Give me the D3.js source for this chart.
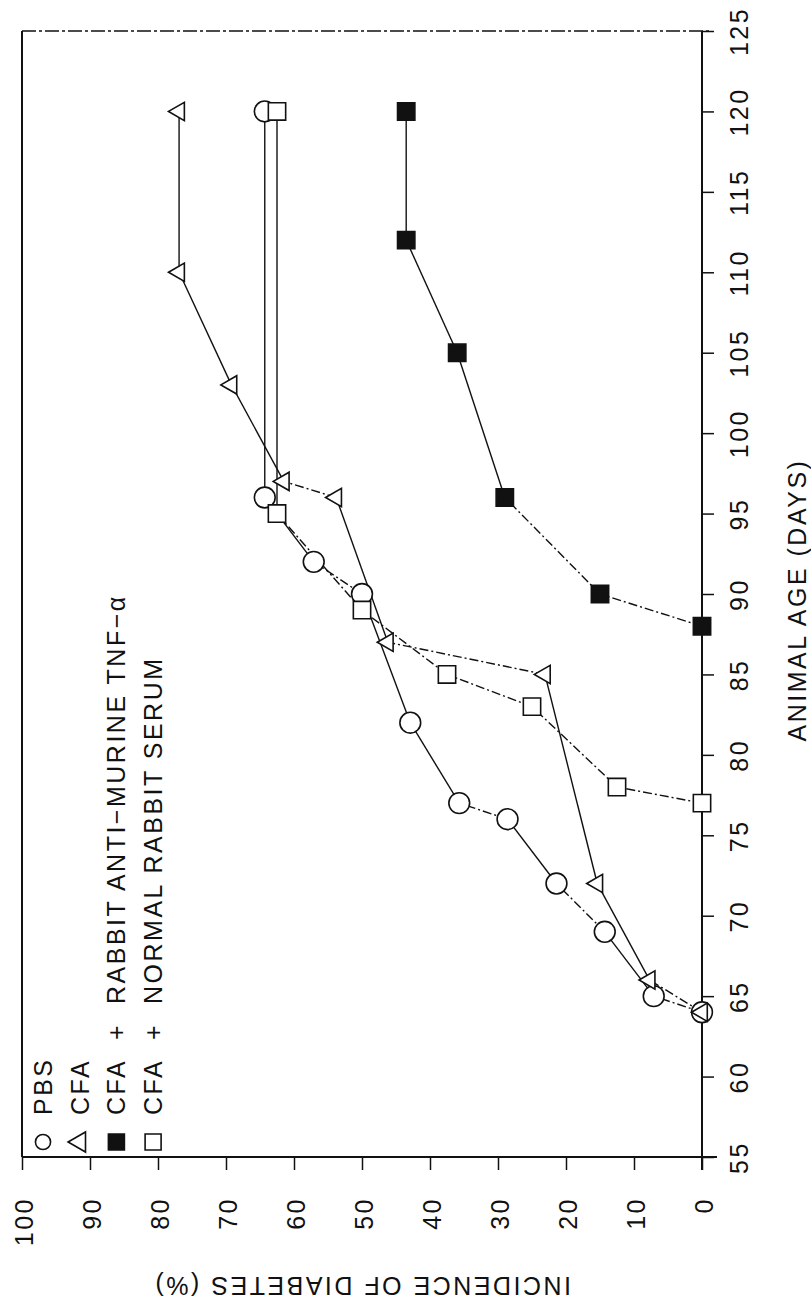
<!DOCTYPE html>
<html>
<head>
<meta charset="utf-8">
<script src="https://cdn.jsdelivr.net/npm/d3@7/dist/d3.min.js"></script>
<style>
  html, body { margin: 0; padding: 0; background: #fff; }
  svg { display: block; }
  text { font-family: "Liberation Sans", Arial, sans-serif; fill: #111; }
</style>
</head>
<body>
<div id="chart"></div>
<script>
// days (x of the original chart) and incidence in % (y)
const pbsDays = [64, 65, 69, 72, 76, 77, 82, 90, 92, 96, 120];
const pbsIncidence = [0, 7.1, 14.3, 21.4, 28.6, 35.7, 42.9, 50, 57.1, 64.3, 64.3];

const cfaDays = [64, 66, 72, 85, 87, 96, 97, 103, 110, 120];
const cfaIncidence = [0, 7.7, 15.4, 23.1, 46.2, 53.8, 61.5, 69.2, 76.9, 76.9];

const antiTnfDays = [88, 90, 96, 105, 112, 120];
const antiTnfIncidence = [0, 15, 29, 36, 43.5, 43.5];

const nrsDays = [77, 78, 83, 85, 89, 95, 120];
const nrsIncidence = [0, 12.5, 25, 37.5, 50, 62.5, 62.5];

const ageTicks = [55, 60, 65, 70, 75, 80, 85, 90, 95, 100, 105, 110, 115, 120, 125];
const incidenceTicks = [0, 10, 20, 30, 40, 50, 60, 70, 80, 90, 100];

const legendLabels = [
  'PBS',
  'CFA',
  'CFA\u00a0\u00a0+\u00a0\u00a0RABBIT ANTI\u2212MURINE TNF\u2212\u03b1',
  'CFA\u00a0\u00a0+\u00a0\u00a0NORMAL RABBIT SERUM',
];

const W = 811;
const H = 1310;
const FS = 25;
const LS = '2.5px';
const INK = '#111';
const CHAIN = '9 3 2 3'; // shallow strokes came out chain-dotted in the print

// the page is the original figure turned a quarter turn counter-clockwise:
// age runs bottom -> top, incidence runs right -> left
const y = d3.scaleLinear().domain([55, 125]).range([1157, 31]);
const x = d3.scaleLinear().domain([0, 100]).range([702, 22]);

const svg = d3.select('#chart').append('svg').attr('width', W).attr('height', H);

// frame (left + top edges)
svg.append('line')
  .attr('x1', x(100)).attr('y1', y(125)).attr('x2', x(100)).attr('y2', y(55))
  .attr('stroke', INK).attr('stroke-width', 2);
svg.append('line')
  .attr('x1', x(100)).attr('y1', y(125)).attr('x2', x(0) + 7).attr('y2', y(125))
  .attr('stroke', INK).attr('stroke-width', 1.6)
  .attr('stroke-dasharray', '14 3 3 3');

// age axis (right side)
const ageAxis = svg.append('g')
  .attr('transform', `translate(${x(0)},0)`)
  .call(d3.axisRight(y).tickValues(ageTicks).tickSize(12).tickSizeOuter(0));
ageAxis.select('.domain').remove();
ageAxis.selectAll('line').attr('stroke', INK).attr('stroke-width', 1.5);
ageAxis.selectAll('text')
  .attr('x', null).attr('dy', null)
  .attr('transform', 'translate(46,0) rotate(-90)')
  .attr('text-anchor', 'middle')
  .attr('font-size', FS)
  .attr('letter-spacing', LS)
  .attr('fill', INK)
  .attr('font-family', null);
svg.append('line')
  .attr('x1', x(0)).attr('y1', y(125)).attr('x2', x(0)).attr('y2', y(55) + 13)
  .attr('stroke', INK).attr('stroke-width', 2);

// incidence axis (bottom)
const incAxis = svg.append('g')
  .attr('transform', `translate(0,${y(55)})`)
  .call(d3.axisBottom(x).tickValues(incidenceTicks).tickSize(13).tickSizeOuter(0));
incAxis.select('.domain').remove();
incAxis.selectAll('line').attr('stroke', INK).attr('stroke-width', 1.5);
incAxis.selectAll('text')
  .attr('y', null).attr('dy', null)
  .attr('transform', 'translate(10,40) rotate(-90)')
  .attr('text-anchor', 'end')
  .attr('font-size', FS)
  .attr('letter-spacing', LS)
  .attr('fill', INK)
  .attr('font-family', null);
svg.append('line')
  .attr('x1', x(100)).attr('y1', y(55)).attr('x2', x(0) + 15).attr('y2', y(55))
  .attr('stroke', INK).attr('stroke-width', 2);

// axis titles
svg.append('text')
  .attr('transform', `translate(806,${(y(55) + y(125)) / 2 + 6}) rotate(-90)`)
  .attr('text-anchor', 'middle')
  .attr('font-size', FS)
  .attr('letter-spacing', LS)
  .text('ANIMAL AGE (DAYS)');
svg.append('text')
  .attr('transform', `translate(${(x(0) + x(100)) / 2},1277) rotate(180)`)
  .attr('text-anchor', 'middle')
  .attr('font-size', FS)
  .attr('letter-spacing', LS)
  .text('INCIDENCE OF DIABETES (%)');

// series
const series = [
  { days: pbsDays, inc: pbsIncidence, shape: 'circle', fill: '#fff' },
  { days: nrsDays, inc: nrsIncidence, shape: 'square', fill: '#fff' },
  { days: cfaDays, inc: cfaIncidence, shape: 'triangle', fill: '#fff' },
  { days: antiTnfDays, inc: antiTnfIncidence, shape: 'square', fill: INK },
];

function symbolPath(shape, big) {
  if (shape === 'circle') return d3.symbol(d3.symbolCircle, big ? 340 : 180)();
  if (shape === 'triangle') return d3.symbol(d3.symbolTriangle, big ? 145 : 175)();
  return d3.symbol(d3.symbolSquare, big ? 300 : 256)();
}

series.forEach((s) => {
  const pts = s.days.map((day, i) => ({ day, inc: s.inc[i] }));
  const segs = d3.pairs(pts);
  svg.append('g')
    .selectAll('line')
    .data(segs)
    .join('line')
    .attr('x1', (d) => x(d[0].inc))
    .attr('y1', (d) => y(d[0].day))
    .attr('x2', (d) => x(d[1].inc))
    .attr('y2', (d) => y(d[1].day))
    .attr('stroke', INK)
    .attr('stroke-width', 1.4)
    .attr('stroke-dasharray', (d) => {
      const dx = Math.abs(x(d[1].inc) - x(d[0].inc));
      const dy = Math.abs(y(d[1].day) - y(d[0].day));
      return dx > 0.78 * dy ? CHAIN : null;
    });
});

series.forEach((s) => {
  const pts = s.days.map((day, i) => ({ day, inc: s.inc[i] }));
  svg.append('g')
    .selectAll('path')
    .data(pts)
    .join('path')
    .attr('transform', (d) => `translate(${x(d.inc)},${y(d.day)}) rotate(-90)`)
    .attr('d', symbolPath(s.shape, true))
    .attr('fill', s.fill)
    .attr('stroke', INK)
    .attr('stroke-width', 1.6);
});

// legend, stacked left -> right, reading upwards
const legendShapes = [
  { shape: 'circle', fill: '#fff' },
  { shape: 'triangle', fill: '#fff' },
  { shape: 'square', fill: INK },
  { shape: 'square', fill: '#fff' },
];
const leg = svg.append('g')
  .selectAll('g')
  .data(legendLabels)
  .join('g')
  .attr('transform', (d, i) => `translate(${52 + i * 36.7},0)`);
leg.append('path')
  .attr('transform', 'translate(-9,1142) rotate(-90)')
  .attr('d', (d, i) => symbolPath(legendShapes[i].shape, false))
  .attr('fill', (d, i) => legendShapes[i].fill)
  .attr('stroke', INK)
  .attr('stroke-width', 1.6);
leg.append('text')
  .attr('transform', 'translate(0,1115) rotate(-90)')
  .attr('font-size', FS)
  .attr('letter-spacing', LS)
  .text((d) => d);
</script>
</body>
</html>
